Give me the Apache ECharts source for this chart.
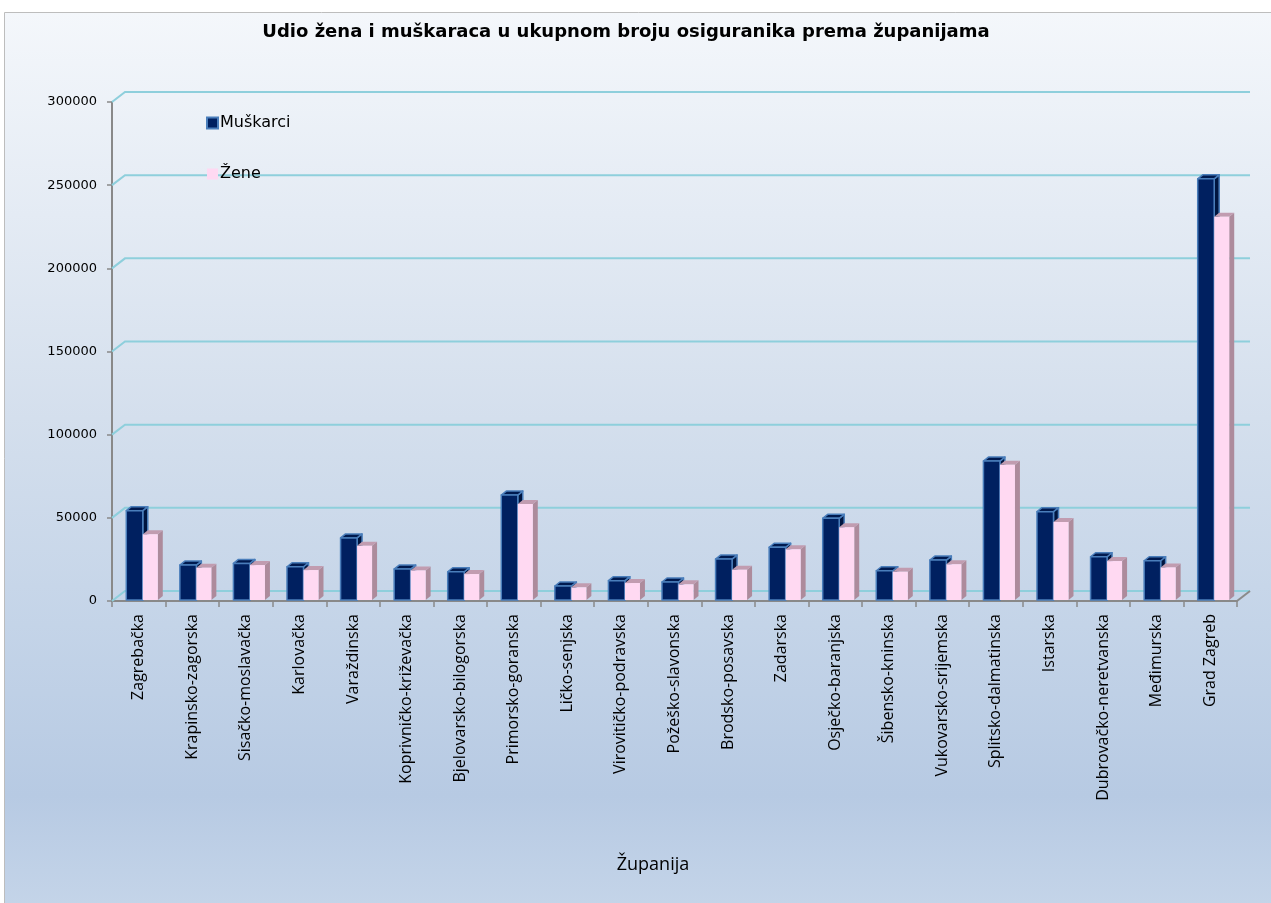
<!DOCTYPE html>
<html>
<head>
<meta charset="utf-8">
<script src="https://cdn.jsdelivr.net/npm/echarts@6/dist/echarts.min.js"></script>
<style>
html,body{margin:0;padding:0;background:#fff;}
#main{width:1271px;height:903px;}
</style>
</head>
<body>
<div id="main"></div>
<script>
const categories = ['Zagrebačka','Krapinsko-zagorska','Sisačko-moslavačka','Karlovačka','Varaždinska','Koprivničko-križevačka','Bjelovarsko-bilogorska','Primorsko-goranska','Ličko-senjska','Virovitičko-podravska','Požeško-slavonska','Brodsko-posavska','Zadarska','Osječko-baranjska','Šibensko-kninska','Vukovarsko-srijemska','Splitsko-dalmatinska','Istarska','Dubrovačko-neretvanska','Međimurska','Grad Zagreb'];
const men = [53700, 21000, 22000, 20000, 37300, 18600, 17000, 63100, 8400, 11600, 10800, 24600, 31700, 49100, 17600, 24000, 83500, 53100, 26000, 23600, 253200];
const women = [39500, 19400, 21000, 18000, 32600, 17800, 15600, 57700, 7600, 10200, 9400, 18200, 30500, 43700, 17000, 21500, 81300, 46900, 23400, 19600, 230400];
const yTicks = [0, 50000, 100000, 150000, 200000, 250000, 300000];

const DX = 5, DY = -4;
function makeBar(off0, off1, front, top, side, stroke, lw) {
  return function (params, api) {
    const c = api.value(0), v = api.value(1);
    const base = api.coord([c, 0]);
    const tp = api.coord([c, v]);
    const cx = base[0];
    const x0 = cx + off0, x1 = cx + off1;
    const yb = base[1] - 1, yt = tp[1] - 1;
    const st = stroke ? {stroke: stroke, lineWidth: lw, lineJoin: 'round'} : {};
    return {type: 'group', children: [
      {type: 'polygon', shape: {points: [[x1, yb], [x1 + DX, yb + DY], [x1 + DX, yt + DY], [x1, yt]]}, style: Object.assign({fill: side}, st)},
      {type: 'polygon', shape: {points: [[x0, yt], [x0 + DX, yt + DY], [x1 + DX, yt + DY], [x1, yt]]}, style: Object.assign({fill: top}, st)},
      {type: 'rect', shape: {x: x0, y: yt, width: x1 - x0, height: yb - yt}, style: Object.assign({fill: front}, st)}
    ]};
  };
}

const GDX = 13, GDY = -10;
function gridRender(params, api) {
  const cs = params.coordSys;
  const y = api.coord([0, api.value(1)])[1];
  const children = [{
    type: 'polyline',
    shape: {points: [[cs.x, y], [cs.x + GDX, y + GDY], [cs.x + cs.width + GDX, y + GDY]]},
    style: {stroke: '#8ecfdc', lineWidth: 2, fill: null}
  }];
  if (api.value(1) === 0) {
    children.push({
      type: 'line',
      shape: {x1: cs.x + cs.width, y1: y, x2: cs.x + cs.width + GDX, y2: y + GDY},
      style: {stroke: '#8a8a8a', lineWidth: 2}
    });
  }
  return {type: 'group', children: children};
}

const chart = echarts.init(document.getElementById('main'));
chart.setOption({
  animation: false,
  backgroundColor: '#ffffff',
  graphic: [{
    type: 'rect', left: 4, top: 12, z: -100,
    shape: {width: 1275, height: 900},
    style: {
      fill: new echarts.graphic.LinearGradient(0, 0, 0, 1, [
        {offset: 0, color: '#f4f7fb'},
        {offset: 0.45, color: '#d4dfed'},
        {offset: 0.68, color: '#c4d4e8'},
        {offset: 0.87, color: '#b7cae3'},
        {offset: 1, color: '#c5d5e9'}
      ]),
      stroke: '#bdbdbd', lineWidth: 1
    }
  }],
  title: [{
    text: 'Udio žena i muškaraca u ukupnom broju osiguranika prema županijama',
    left: 621, top: 18, textAlign: 'center',
    textStyle: {fontFamily: 'DejaVu Sans', fontWeight: 'bold', fontSize: 18, color: '#000'}
  }, {
    text: 'Županija',
    left: 648, top: 851, textAlign: 'center',
    textStyle: {fontFamily: 'Open Sans', fontWeight: 'normal', fontSize: 18, color: '#000'}
  }],
  legend: {
    data: ['Muškarci', 'Žene'],
    orient: 'vertical',
    left: 201, top: 110,
    itemWidth: 11, itemHeight: 11, itemGap: 35,
    icon: 'rect',
    textStyle: {fontFamily: 'DejaVu Sans', fontSize: 16, color: '#000', padding: [0, 0, 0, -3]}
  },
  grid: {left: 112, right: 34, top: 102, bottom: 302},
  xAxis: {
    type: 'category',
    data: categories,
    boundaryGap: true,
    axisLine: {lineStyle: {color: '#898989', width: 2}},
    axisTick: {show: true, length: 6, lineStyle: {color: '#898989', width: 1.5}},
    axisLabel: {rotate: 90, interval: 0, margin: 13, fontFamily: 'Open Sans', fontSize: 16, color: '#000'},
    splitLine: {show: false}
  },
  yAxis: {
    type: 'value',
    min: 0, max: 300000, interval: 50000,
    axisLine: {show: true, lineStyle: {color: '#898989', width: 2}},
    axisTick: {show: true, length: 5, lineStyle: {color: '#898989', width: 1.5}},
    axisLabel: {margin: 15, fontFamily: 'DejaVu Sans', fontSize: 13, color: '#000', formatter: v => String(v)},
    splitLine: {show: false}
  },
  series: [{
    type: 'custom',
    name: 'grid3d',
    renderItem: gridRender,
    data: yTicks.map(t => [0, t]),
    silent: true,
    z: 1
  }, {
    type: 'custom',
    name: 'Muškarci',
    renderItem: makeBar(-12.5, 4, '#002060', '#001a4f', '#00153f', '#4a7ebb', 1.5),
    itemStyle: {color: '#002060', borderColor: '#4a7ebb', borderWidth: 1},
    data: men.map((v, i) => [i, v]),
    z: 3
  }, {
    type: 'custom',
    name: 'Žene',
    renderItem: makeBar(4, 19, '#ffd9f2', '#c19cb0', '#ad8b9c', null, 0),
    itemStyle: {color: '#ffd9f2'},
    data: women.map((v, i) => [i, v]),
    z: 4
  }]
});
</script>
</body>
</html>
